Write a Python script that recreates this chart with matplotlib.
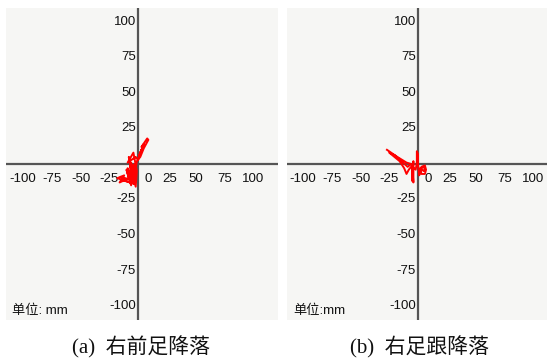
import matplotlib
matplotlib.use("Agg")
import matplotlib.pyplot as plt

# Tick values shown on both axes (mm)
x_ticks = [-100, -75, -50, -25, 0, 25, 50, 75, 100]
y_ticks = [100, 75, 50, 25, -25, -50, -75, -100]

# Centre-of-pressure trace, right forefoot landing (mm)
a_x = [-3, -18, -12, -16, -8, -10, -6, -7, -5, -8, -4, -3, -6, -2, -1, -4,
       -9, -2, 0, 3, 1, 5, 3, 8, 9, 5, 2, -1, -3, -3, -11, -15, -7, -9, -5,
       -6, -2]
a_y = [-14, -10, -8, -13, -10, -4, -15, 2, -8, 5, -12, 0, -3, -16, -5, 8,
       1, 5, 3, 10, 6, 14, 12, 18, 17, 11, 5, 2, -10, -14, -12, -9, -11,
       -3, -12, 1, -9]

# Centre-of-pressure trace, right heel landing (mm)
b_x = [-27, -18, -10, -6, -9, -13, -20, -25, -16, -12, -10, -8, -5, -5, -4,
       -4, -5, -2, -1, -1, 0, 0, 1, 2, 3, 6, 7, 6, 3, 2, 4, 6, 5, 2]
b_y = [10, 5, 1, 0, -2, 1, 6, 8, 2, -3, -7, -4, -1, -12, 2, -13, -2, -4, 1,
       9, 7, 0, -8, -6, -2, -1, -4, -7, -7, -4, -2, -3, -5, -3]

units_a = "单位: mm"
units_b = "单位:mm"
captions = ["(a)  右前足降落", "(b)  右足跟降落"]

W, H = 547, 358
fig = plt.figure(figsize=(W / 100, H / 100), dpi=100)
fig.patch.set_facecolor("white")

sans = ["Liberation Sans", "Noto Sans CJK SC", "DejaVu Sans"]
serif = ["Liberation Serif", "Noto Sans CJK SC", "DejaVu Sans"]
bg = "#f6f6f4"
axis_col = "#555555"


def panel(px_left, px_right, px_origin, xs, ys, units):
    top, bottom, y_origin = 8, 320, 164
    sx, sy = 1.15, 1.42  # pixels per mm
    ax = fig.add_axes([px_left / W, 1 - bottom / H,
                       (px_right - px_left) / W, (bottom - top) / H])
    ax.set_facecolor(bg)
    ax.set_xlim((px_left - px_origin) / sx, (px_right - px_origin) / sx)
    ax.set_ylim((y_origin - bottom) / sy, (y_origin - top) / sy)
    for s in ax.spines.values():
        s.set_visible(False)
    ax.set_xticks([])
    ax.set_yticks([])
    ax.axhline(0, color=axis_col, lw=1.6, zorder=2)
    ax.axvline(0, color=axis_col, lw=1.6, zorder=2)

    for v in x_ticks:
        dx = 10 if v == 0 else (3 if v == 25 else 0)
        ax.annotate(str(v), xy=(v, 0), xytext=(dx, -15),
                    textcoords="offset pixels", ha="center", va="center",
                    fontsize=9.5, family=sans, color="#111111")
    for v in y_ticks:
        ax.annotate(str(v), xy=(0, v), xytext=(-2, 0),
                    textcoords="offset pixels", ha="right", va="center",
                    fontsize=9.5, family=sans, color="#111111")

    ax.plot(xs, ys, color="#ff0000", lw=1.4, zorder=3)
    ax.text(6 / (px_right - px_left), 9 / (bottom - top), units,
            transform=ax.transAxes, ha="left", va="center",
            fontsize=9.5, family=sans, color="#111111")
    return ax


panel(6, 278, 138, a_x, a_y, units_a)
panel(287, 547, 418, b_x, b_y, units_b)

fig.text(141 / W, 1 - 347 / H, captions[0], ha="center", va="center",
         fontsize=15, family=serif, color="#111111")
fig.text(419 / W, 1 - 347 / H, captions[1], ha="center", va="center",
         fontsize=15, family=serif, color="#111111")

fig.savefig("out.png", dpi=100, facecolor="white")
